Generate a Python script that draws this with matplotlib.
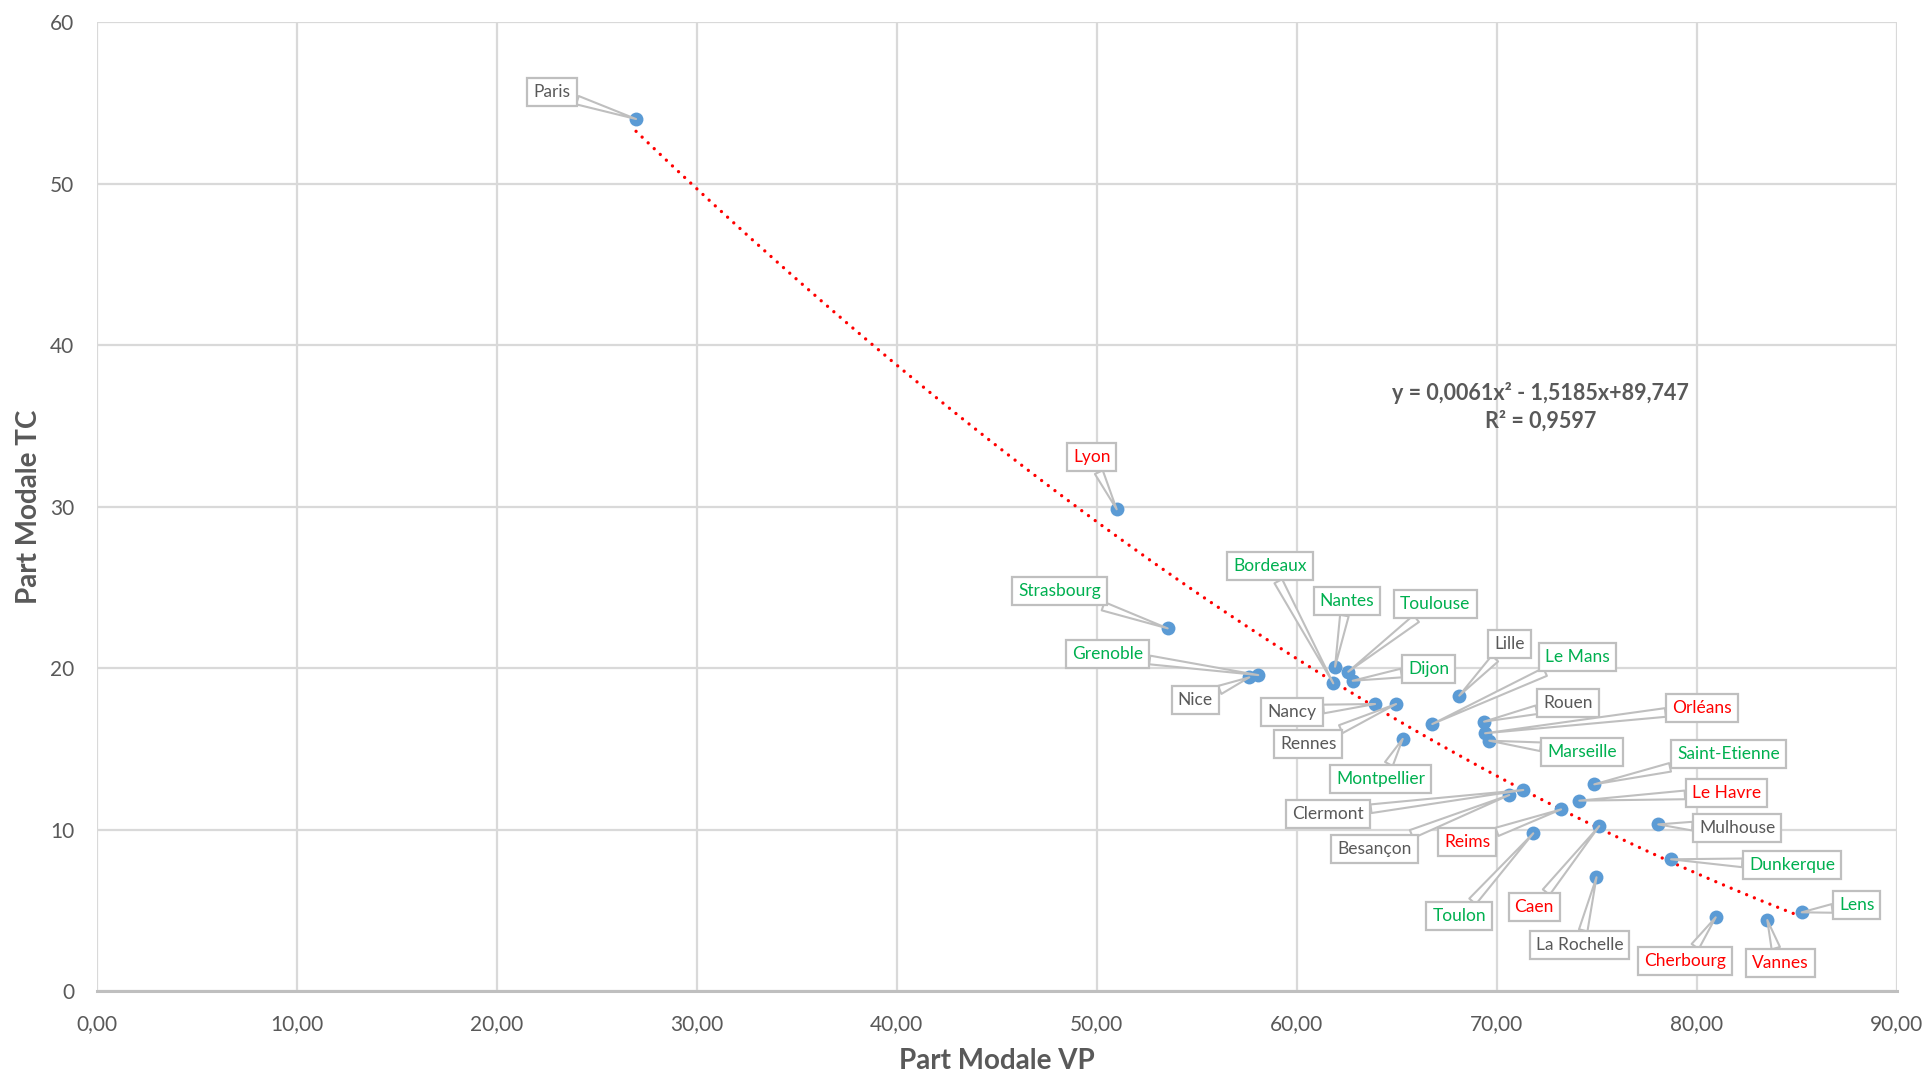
import numpy as np
import matplotlib
matplotlib.use("Agg")
import matplotlib.pyplot as plt
from matplotlib.ticker import FuncFormatter

plt.rcParams['font.family'] = ['Lato', 'DejaVu Sans']

# City data: part modale VP (x) and TC (y)
cities = ["Paris", "Lyon", "Strasbourg", "Grenoble", "Nice", "Bordeaux", "Nantes",
          "Toulouse", "Dijon", "Nancy", "Rennes", "Montpellier", "Lille", "Le Mans",
          "Rouen", "Orléans", "Marseille", "Clermont", "Besançon", "Reims",
          "Saint-Etienne", "Le Havre", "Caen", "Toulon", "Mulhouse", "La Rochelle",
          "Dunkerque", "Lens", "Cherbourg", "Vannes"]
vp = [26.97, 51.00, 53.55, 58.08, 57.63, 61.83, 61.92, 62.58, 62.80, 63.92, 64.97,
      65.30, 68.13, 66.78, 69.37, 69.42, 69.63, 71.33, 70.63, 73.22, 74.88, 74.13,
      75.13, 71.83, 78.08, 74.99, 78.72, 85.25, 80.95, 83.53]
tc = [53.99, 29.84, 22.47, 19.58, 19.44, 19.07, 20.10, 19.79, 19.23, 17.79, 17.79,
      15.63, 18.31, 16.55, 16.70, 15.98, 15.52, 12.47, 12.16, 11.27, 12.82, 11.81,
      10.24, 9.79, 10.34, 7.07, 8.18, 4.90, 4.59, 4.42]
groups = ["gris", "rouge", "vert", "vert", "gris", "vert", "vert", "vert", "vert",
          "gris", "gris", "vert", "gris", "vert", "gris", "rouge", "vert", "gris",
          "gris", "rouge", "vert", "rouge", "rouge", "vert", "gris", "gris", "vert",
          "vert", "rouge", "rouge"]

# trendline coefficients (polynomial order 2) shown on chart
coef = [0.0061, -1.5185, 89.747]
r2 = 0.9597

# label placement (offset in pixels from the point)
label_offsets = {
    "Paris": (-84, 27), "Lyon": (-25, 52), "Strasbourg": (-108, 37),
    "Grenoble": (-151, 21), "Nice": (-54, -23), "Bordeaux": (-63, 117),
    "Nantes": (12, 66), "Toulouse": (87, 68), "Dijon": (76, 12),
    "Nancy": (-83, -8), "Rennes": (-88, -40), "Montpellier": (-22, -40),
    "Lille": (50, 52), "Le Mans": (145, 67), "Rouen": (84, 19),
    "Orléans": (217, 25), "Marseille": (93, -11), "Clermont": (-195, -24),
    "Besançon": (-135, -54), "Reims": (-94, -33), "Saint-Etienne": (134, 30),
    "Le Havre": (147, 8), "Caen": (-65, -81), "Toulon": (-74, -83),
    "Mulhouse": (79, -4), "La Rochelle": (-17, -68), "Dunkerque": (121, -6),
    "Lens": (55, 7), "Cherbourg": (-31, -44), "Vannes": (13, -43),
}
colors = {"gris": "#595959", "vert": "#00B050", "rouge": "#FF0000"}

fig = plt.figure(figsize=(19.25, 10.79), dpi=100)
ax = fig.add_axes([0.0502, 0.0811, 0.9351, 0.8986])

# trendline
xs = np.linspace(min(vp), max(vp), 300)
ax.plot(xs, np.polyval(coef, xs), color="#FF0000", lw=2.4,
        linestyle=(0, (0.01, 2.5)), dash_capstyle="round", zorder=3)

ax.scatter(vp, tc, s=100, color="#5B9BD5", zorder=4, linewidths=0)

for name, x, y, g in zip(cities, vp, tc, groups):
    ax.annotate(name, xy=(x, y), xytext=label_offsets[name], textcoords="offset pixels",
                ha="center", va="center", fontsize=12.5, color=colors[g], zorder=5,
                bbox=dict(boxstyle="square,pad=0.35", fc="white", ec="#BFBFBF", lw=1.6),
                arrowprops=dict(arrowstyle="wedge,tail_width=0.5,shrink_factor=0.5",
                                fc="white", ec="#BFBFBF", lw=1.5,
                                shrinkA=0, shrinkB=0))

eq = "y = {:.4f}x² - {:.4f}x+{:.3f}".format(coef[0], -coef[1], coef[2]).replace(".", ",")
ax.text(72.2, 37.05, eq, ha="center", va="center", fontsize=15.5, fontweight="bold",
        color="#595959")
ax.text(72.2, 35.3, "R² = {:.4f}".format(r2).replace(".", ","), ha="center",
        va="center", fontsize=15.5, fontweight="bold", color="#595959")

ax.set_xlim(0, 90)
ax.set_ylim(0, 60)
ax.set_xticks(np.arange(0, 91, 10))
ax.set_yticks(np.arange(0, 61, 10))
ax.xaxis.set_major_formatter(FuncFormatter(lambda v, p: f"{v:.2f}".replace(".", ",")))
ax.grid(True, color="#D9D9D9", lw=1.6)
ax.set_axisbelow(True)
for s in ["top", "right", "left"]:
    ax.spines[s].set_visible(False)
ax.spines["bottom"].set_color("#BFBFBF")
ax.spines["bottom"].set_linewidth(2.2)
ax.tick_params(length=0, labelsize=15, labelcolor="#595959")
ax.tick_params(axis="x", pad=16)
ax.tick_params(axis="y", pad=16)
ax.set_xlabel("Part Modale VP", fontsize=20, fontweight="bold", color="#595959", labelpad=10)
ax.set_ylabel("Part Modale TC", fontsize=20, fontweight="bold", color="#595959", labelpad=6)

fig.savefig("out.png", dpi=100)
